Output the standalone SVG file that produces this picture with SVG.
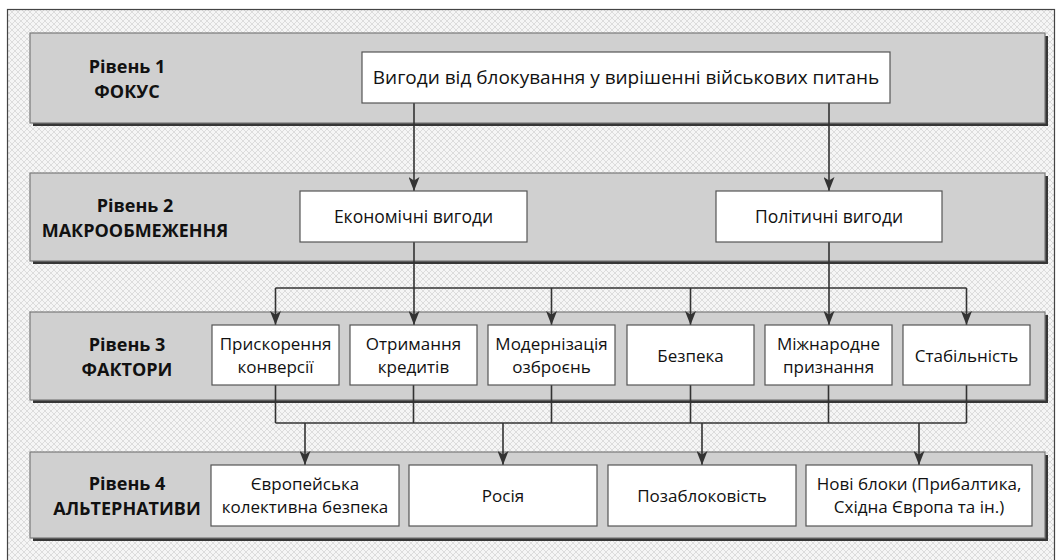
<svg xmlns="http://www.w3.org/2000/svg" width="1056" height="560" viewBox="0 0 1056 560">
<defs>
<pattern id="hatch" width="6" height="6" patternUnits="userSpaceOnUse">
<rect width="6" height="6" fill="#f5f5f5"/>
<path d="M0,0 L6,6 M6,0 L0,6" stroke="#dcdcdc" stroke-width="1"/>
</pattern>
<marker id="arrd" markerWidth="11" markerHeight="14" refX="5.5" refY="14" orient="0" markerUnits="userSpaceOnUse" viewBox="0 0 11 14">
<path d="M0,0 L5.5,3.5 L11,0 L5.5,14 Z" fill="#333"/>
</marker>
</defs>
<style>
.band{fill:#d0d0d0;stroke:#7a7a7a;stroke-width:1.2}
.shadow{fill:#363636}
.box{fill:#ffffff;stroke:#555;stroke-width:1.2}
.lvl{font-family:"Open Sans","Noto Sans","Liberation Sans",sans-serif;font-weight:bold;font-size:18px;fill:#111;text-anchor:middle}
.t{font-family:"Open Sans","Noto Sans","Liberation Sans",sans-serif;font-size:17px;fill:#111;text-anchor:middle}
.c{fill:none;stroke:#333;stroke-width:1.6}
</style>
<rect x="0" y="0" width="1056" height="560" fill="#ffffff"/>
<rect x="7.5" y="9.5" width="1047" height="560" fill="url(#hatch)" stroke="#444" stroke-width="1.2"/>

<g id="band1">
<rect class="shadow" x="33" y="36" width="1015" height="90"/>
<rect class="band" x="30" y="33" width="1015" height="90"/>
<text class="lvl" x="127" y="73">Рівень 1</text>
<text class="lvl" x="127" y="98">ФОКУС</text>
</g>
<g id="band2">
<rect class="shadow" x="33" y="176" width="1015" height="88"/>
<rect class="band" x="30" y="173" width="1015" height="88"/>
<text class="lvl" x="135" y="212">Рівень 2</text>
<text class="lvl" x="135" y="237">МАКРООБМЕЖЕННЯ</text>
</g>
<g id="band3">
<rect class="shadow" x="33" y="315" width="1015" height="88"/>
<rect class="band" x="30" y="312" width="1015" height="88"/>
<text class="lvl" x="127" y="351">Рівень 3</text>
<text class="lvl" x="127" y="376">ФАКТОРИ</text>
</g>
<g id="band4">
<rect class="shadow" x="33" y="455" width="1015" height="86"/>
<rect class="band" x="30" y="452" width="1015" height="86"/>
<text class="lvl" x="127" y="490">Рівень 4</text>
<text class="lvl" x="127" y="515">АЛЬТЕРНАТИВИ</text>
</g>

<g id="connectors">
<path class="c" d="M414,103 V191" marker-end="url(#arrd)"/>
<path class="c" d="M829,103 V191" marker-end="url(#arrd)"/>
<path class="c" d="M414,242 V325" marker-end="url(#arrd)"/>
<path class="c" d="M829,242 V325" marker-end="url(#arrd)"/>
<path class="c" d="M275.5,288 H966.5"/>
<path class="c" d="M275.5,288 V325" marker-end="url(#arrd)"/>
<path class="c" d="M551.5,288 V325" marker-end="url(#arrd)"/>
<path class="c" d="M690.5,288 V325" marker-end="url(#arrd)"/>
<path class="c" d="M966.5,288 V325" marker-end="url(#arrd)"/>
<path class="c" d="M275.5,385 V423 M413.5,385 V423 M551.5,385 V423 M690.5,385 V423 M828.5,385 V423 M966.5,385 V423"/>
<path class="c" d="M275.5,423 H966.5"/>
<path class="c" d="M305,423 V465" marker-end="url(#arrd)"/>
<path class="c" d="M503,423 V465" marker-end="url(#arrd)"/>
<path class="c" d="M702,423 V465" marker-end="url(#arrd)"/>
<path class="c" d="M919,423 V465" marker-end="url(#arrd)"/>
</g>

<g id="n-focus">
<rect class="box" x="362" y="52" width="528" height="51"/>
<text class="t" x="626" y="84" style="font-size:19px">Вигоди від блокування у вирішенні військових питань</text>
</g>
<g id="n-econ">
<rect class="box" x="300" y="191" width="227" height="51"/>
<text class="t" x="413.5" y="223" style="font-size:17.5px">Економічні вигоди</text>
</g>
<g id="n-polit">
<rect class="box" x="716" y="191" width="226" height="51"/>
<text class="t" x="829" y="223" style="font-size:17.5px">Політичні вигоди</text>
</g>

<g id="n-conv">
<rect class="box" x="212" y="325" width="127" height="60"/>
<text class="t" x="275.5" y="350">Прискорення</text>
<text class="t" x="275.5" y="373">конверсії</text>
</g>
<g id="n-cred">
<rect class="box" x="350" y="325" width="127" height="60"/>
<text class="t" x="413.5" y="350">Отримання</text>
<text class="t" x="413.5" y="373">кредитів</text>
</g>
<g id="n-mod">
<rect class="box" x="488" y="325" width="127" height="60"/>
<text class="t" x="551.5" y="350">Модернізація</text>
<text class="t" x="551.5" y="373">озброєнь</text>
</g>
<g id="n-sec">
<rect class="box" x="627" y="325" width="127" height="60"/>
<text class="t" x="690.5" y="362">Безпека</text>
</g>
<g id="n-intl">
<rect class="box" x="765" y="325" width="127" height="60"/>
<text class="t" x="828.5" y="350">Міжнародне</text>
<text class="t" x="828.5" y="373">признання</text>
</g>
<g id="n-stab">
<rect class="box" x="903" y="325" width="127" height="60"/>
<text class="t" x="966.5" y="362">Стабільність</text>
</g>

<g id="n-eu">
<rect class="box" x="211" y="465" width="188" height="61"/>
<text class="t" x="305" y="490">Європейська</text>
<text class="t" x="305" y="513">колективна безпека</text>
</g>
<g id="n-ru">
<rect class="box" x="409" y="465" width="188" height="61"/>
<text class="t" x="503" y="502">Росія</text>
</g>
<g id="n-nonbloc">
<rect class="box" x="608" y="465" width="188" height="61"/>
<text class="t" x="702" y="502">Позаблоковість</text>
</g>
<g id="n-new">
<rect class="box" x="806" y="465" width="226" height="61"/>
<text class="t" x="919" y="490">Нові блоки (Прибалтика,</text>
<text class="t" x="919" y="513">Східна Європа та ін.)</text>
</g>
</svg>
